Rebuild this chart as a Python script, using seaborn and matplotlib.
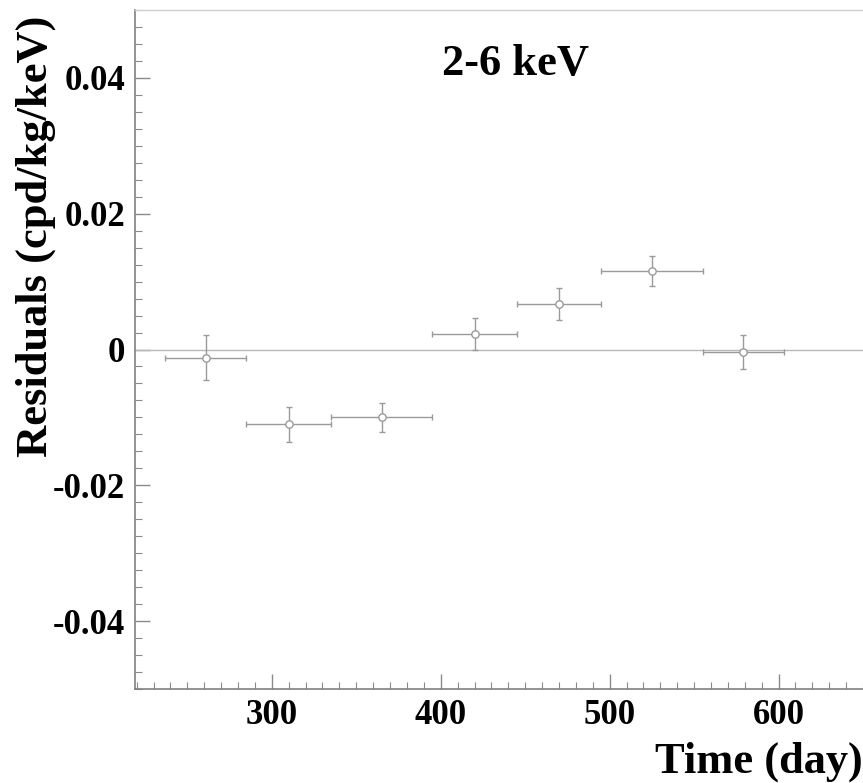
import matplotlib
matplotlib.use("Agg")
import matplotlib.pyplot as plt
from matplotlib.ticker import MultipleLocator
import seaborn as sns
import pandas as pd

# Data
time_day = [261, 310, 365, 420, 470, 525, 579]
time_err = [24, 25, 30, 25, 25, 30, 24]
residuals = [-0.0012, -0.0110, -0.0100, 0.0023, 0.0067, 0.0116, -0.0003]
resid_err = [0.0033, 0.0026, 0.0021, 0.0023, 0.0024, 0.0022, 0.0025]

x_ticks = [300, 400, 500, 600]
y_ticks = [-0.04, -0.02, 0, 0.02, 0.04]
y_tick_labels = ["-0.04", "-0.02", "0", "0.02", "0.04"]

title_text = "2-6 keV"
x_label = "Time (day)"
y_label = "Residuals (cpd/kg/keV)"

df = pd.DataFrame({"time": time_day, "res": residuals,
                   "terr": time_err, "rerr": resid_err})

sns.set_theme(style="white")
plt.rcParams["font.family"] = ["Liberation Serif", "DejaVu Serif"]
plt.rcParams["font.weight"] = "bold"
plt.rcParams["text.color"] = "black"
plt.rcParams["axes.labelcolor"] = "black"
plt.rcParams["xtick.color"] = "black"
plt.rcParams["ytick.color"] = "black"

fig = plt.figure(figsize=(8.63, 7.83), dpi=100)
ax = fig.add_axes([135 / 863, 94 / 783, 728 / 863, 679 / 783])

gray = "#9a9a9a"
ax.axhline(0, color="#b8b8b8", lw=1.0, zorder=1)
ax.errorbar(df["time"], df["res"], xerr=df["terr"], yerr=df["rerr"],
            fmt="none", ecolor=gray, elinewidth=1.0, capsize=2.0,
            capthick=1.0, zorder=2)
sns.scatterplot(data=df, x="time", y="res", ax=ax, marker="o", s=28,
                facecolor="white", edgecolor=gray, linewidth=1.0, zorder=3)

ax.set_xlim(219, 650)
ax.set_ylim(-0.05, 0.05)
ax.set_xticks(x_ticks)
ax.set_xticklabels([str(t) for t in x_ticks])
ax.set_yticks(y_ticks)
ax.set_yticklabels(y_tick_labels)
ax.xaxis.set_minor_locator(MultipleLocator(10))
ax.yaxis.set_minor_locator(MultipleLocator(0.0025))

for lab in ax.get_xticklabels() + ax.get_yticklabels():
    lab.set_fontsize(25)
    lab.set_fontweight("bold")
    lab.set_color("black")

ax.tick_params(which="major", direction="in", length=11, width=1.0,
               color="#8a8a8a", labelcolor="black", pad=7)
ax.tick_params(which="minor", direction="in", length=5, width=0.8,
               color="#8a8a8a")
ax.tick_params(axis="both", which="both", top=False, right=False,
               bottom=True, left=True)

for side in ["left", "bottom"]:
    ax.spines[side].set_color("#808080")
    ax.spines[side].set_linewidth(1.2)
ax.spines["top"].set_color("#d0d0d0")
ax.spines["top"].set_linewidth(1.0)
ax.spines["right"].set_visible(False)

ax.set_xlabel(x_label, fontsize=32, fontweight="bold", loc="right",
              color="black")
ax.xaxis.set_label_coords(1.0, -0.078)
ax.set_ylabel(y_label, fontsize=32, fontweight="bold", color="black")
ax.yaxis.set_label_coords(-0.108, 0.667)

ax.text(0.522, 0.92, title_text, transform=ax.transAxes, fontsize=32,
        fontweight="bold", ha="center", va="center", color="black")

fig.savefig("out.png", dpi=100)
